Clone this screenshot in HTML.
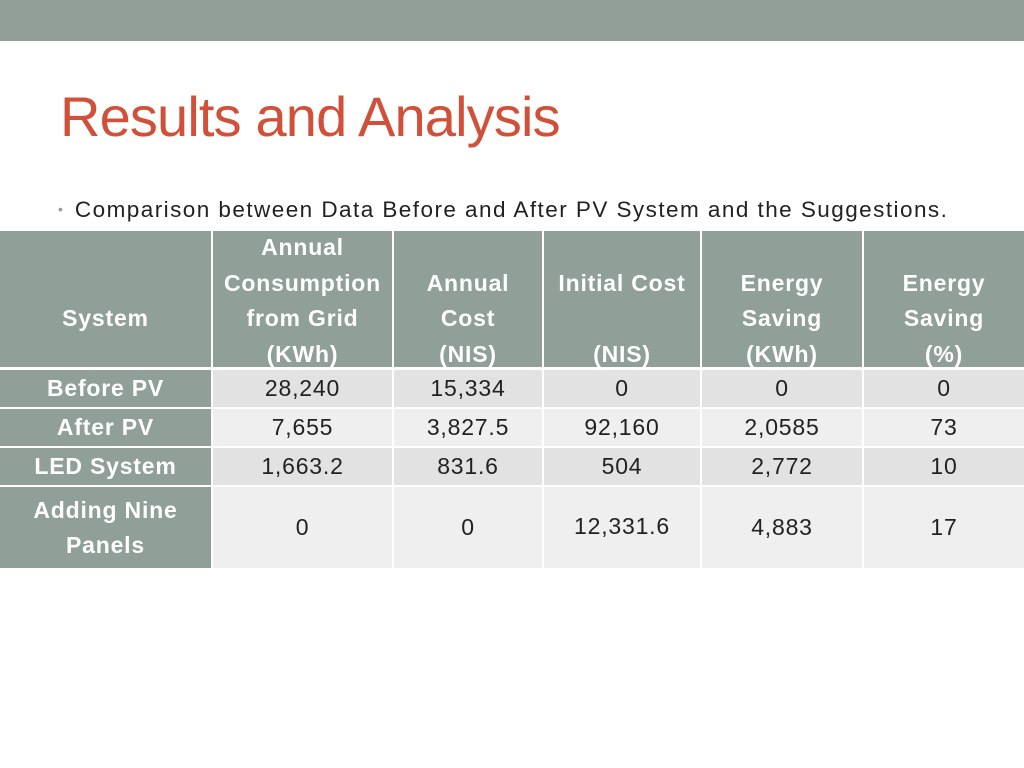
<!DOCTYPE html>
<html><head><meta charset="utf-8"><style>
body{margin:0;width:1024px;height:768px;background:#fff;position:relative;overflow:hidden;font-family:"Liberation Sans",Arial,Helvetica,sans-serif}
.c{position:absolute;box-sizing:border-box;display:flex;align-items:center;justify-content:center;text-align:center;font-size:23px;line-height:35px;letter-spacing:0.8px}
.h{background:#909f98;color:#fff;font-weight:bold}
.hd{align-items:flex-start;line-height:35.5px;padding-top:0;overflow:visible}
.d{color:#222}
.r1{background:#e1e2e1}.r2{background:#eeefee}
</style></head><body>
<div style="position:absolute;left:0;top:0;width:1024px;height:41px;background:#929f98"></div>
<div style="position:absolute;left:60px;top:84px;font-size:56px;color:#d0503a;letter-spacing:-0.85px;white-space:nowrap">Results and Analysis</div>
<div style="position:absolute;left:58px;top:197px;font-size:22.5px;color:#222;white-space:nowrap"><span style="color:#999;font-size:14px;margin-right:12px;vertical-align:3px">•</span><span style="letter-spacing:1.45px">Comparison between Data Before and After PV System and the Suggestions.</span></div>
<div id="t"></div>
<script>
const cols=[0,211,392,542,700,862,1024];
const rows=[[231,367],[370,407],[409,446],[448,485],[487,568]];
const headers=["<br><br>System<br>","Annual<br>Consumption<br>from Grid<br>(KWh)","<br>Annual<br>Cost<br>(NIS)","<br>Initial Cost<br><br>(NIS)","<br>Energy<br>Saving<br>(KWh)","<br>Energy<br>Saving<br>(%)"];
const systems=["Before PV","After PV","LED System","Adding Nine<br>Panels"];
const values=[["28,240","15,334","0","0","0"],["7,655","3,827.5","92,160","2,0585","73"],["1,663.2","831.6","504","2,772","10"],["0","0","12,331.6","4,883","17"]];
function cell(ci,ri,html,cls){
 const el=document.createElement('div');
 
 
 el.className='c '+cls;
 const x0=cols[ci]+(ci>0?2:0),x1=cols[ci+1];
 el.style.left=x0+'px';el.style.width=(x1-x0)+'px';
 el.style.top=rows[ri][0]+'px';el.style.height=(rows[ri][1]-rows[ri][0])+'px';
 el.innerHTML=html;document.body.appendChild(el);return el;
}
headers.forEach((h,i)=>{const e=cell(i,0,'<div style="margin-top:-1px">'+h+'</div>','h hd');});
systems.forEach((s,r)=>{
 cell(0,r+1,s,'h');
 values[r].forEach((v,i)=>{const e=cell(i+1,r+1,v,'d '+(r%2==0?'r1':'r2'));if(r==3&&i==2){e.style.alignItems='flex-start';e.style.paddingTop='22px';}});
});
</script>
</body></html>
